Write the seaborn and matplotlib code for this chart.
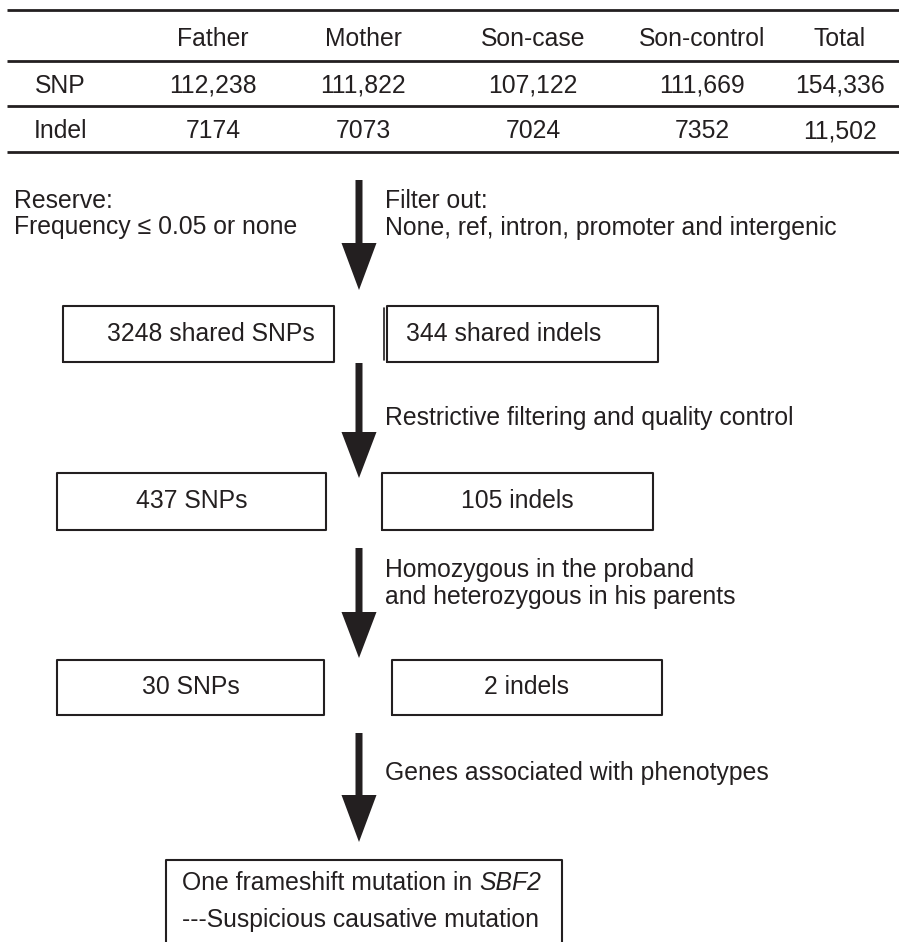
import matplotlib
matplotlib.use("Agg")
import matplotlib.pyplot as plt
import seaborn as sns

#####
##### Data
#####

columns = ['Father', 'Mother', 'Son-case', 'Son-control', 'Total']
row_labels = ['SNP', 'Indel']
snp_counts = [112238, 111822, 107122, 111669, 154336]
indel_counts = [7174, 7073, 7024, 7352, 11502]

reserve_text = ['Reserve:', 'Frequency \u2264 0.05 or none']
step_texts = [
    ['Filter out:', 'None, ref, intron, promoter and intergenic'],
    ['Restrictive filtering and quality control'],
    ['Homozygous in the proband', 'and heterozygous in his parents'],
    ['Genes associated with phenotypes'],
]
snp_left = [3248, 437, 30]
indel_left = [344, 105, 2]
snp_names = ['shared SNPs', 'SNPs', 'SNPs']
indel_names = ['shared indels', 'indels', 'indels']
final_text = ['One frameshift mutation in ', 'SBF2', '---Suspicious causative mutation']

#####
##### Style / layout (pixel units, y down)
#####

sns.set_theme(style='white')
plt.rcParams['font.family'] = ['Liberation Sans', 'DejaVu Sans']
ink = '#231f20'
fs = 17.8

fig = plt.figure(figsize=(8.99, 9.42), dpi=100)
ax = fig.add_axes([0, 0, 1, 1])
ax.set_xlim(0, 899)
ax.set_ylim(942, 0)
ax.axis('off')


def fmt(v):
    return f'{v:,}' if v >= 10000 else str(v)


### table
col_x = [213, 363, 533, 702, 840]
label_x = 60
header_y, snp_y, indel_y = 39, 86, 131
for y in [10, 61, 106, 152]:
    ax.plot([7, 899], [y, y], color=ink, lw=2, solid_capstyle='butt')

for cx, name in zip(col_x, columns):
    ax.text(cx, header_y, name, ha='center', va='center', fontsize=fs, color=ink)
for ry, lab, vals in zip([snp_y, indel_y], row_labels, [snp_counts, indel_counts]):
    ax.text(label_x, ry, lab, ha='center', va='center', fontsize=fs, color=ink)
    for cx, v in zip(col_x, vals):
        ax.text(cx, ry, fmt(v), ha='center', va='center', fontsize=fs, color=ink)


### arrows
def arrow(x, top, base, tip, shaft_w=7, head_w=35):
    ax.fill([x - shaft_w / 2, x + shaft_w / 2, x + shaft_w / 2, x + head_w / 2,
             x, x - head_w / 2, x - shaft_w / 2],
            [top, top, base, base, tip, base, base], color=ink, lw=0)


arrow_x = 359
arrows = [(180, 243, 290), (363, 432, 478), (548, 612, 658), (733, 795, 842)]
for a in arrows:
    arrow(arrow_x, *a)

# side texts
for i, line in enumerate(reserve_text):
    ax.text(14, 201 + 26 * i, line, ha='left', va='center', fontsize=fs, color=ink)
step_y = [201, 418, 570, 773]
for sy, lines in zip(step_y, step_texts):
    for i, line in enumerate(lines):
        ax.text(385, sy + 27 * i, line, ha='left', va='center', fontsize=fs, color=ink)


### boxes
def box(x0, x1, y0, y1, bottom=True):
    xs = [x0, x0, x1, x1]
    ys = [y1, y0, y0, y1]
    if bottom:
        xs.append(x0)
        ys.append(y1)
    ax.plot(xs, ys, color=ink, lw=1.5)


snp_boxes = [(63, 334), (57, 326), (57, 324)]
indel_boxes = [(387, 658), (382, 653), (392, 662)]
box_rows = [(306, 362), (473, 530), (660, 715)]

for i, (y0, y1) in enumerate(box_rows):
    sx0, sx1 = snp_boxes[i]
    ix0, ix1 = indel_boxes[i]
    box(sx0, sx1, y0, y1)
    box(ix0, ix1, y0, y1)
    ym = (y0 + y1) / 2
    if i == 0:
        ax.text(211, ym, f'{snp_left[i]} {snp_names[i]}', ha='center', va='center',
                fontsize=fs, color=ink)
        ax.text(406, ym, f'{indel_left[i]} {indel_names[i]}', ha='left', va='center',
                fontsize=fs, color=ink)
    else:
        ax.text((sx0 + sx1) / 2, ym, f'{snp_left[i]} {snp_names[i]}', ha='center',
                va='center', fontsize=fs, color=ink)
        ax.text((ix0 + ix1) / 2, ym, f'{indel_left[i]} {indel_names[i]}', ha='center',
                va='center', fontsize=fs, color=ink)
# doubled left edge on the first indel box
ax.plot([384, 384], [308, 360], color=ink, lw=1.2)

# final box, open at the bottom edge of the figure
box(166, 562, 860, 944, bottom=False)
t1 = ax.text(182, 883, final_text[0], ha='left', va='center', fontsize=fs, color=ink)
fig.canvas.draw()
bb = t1.get_window_extent()
x_end = ax.transData.inverted().transform((bb.x1, bb.y0))[0]
ax.text(x_end, 883, final_text[1], ha='left', va='center', fontsize=fs, color=ink,
        style='italic')
ax.text(182, 920, final_text[2], ha='left', va='center', fontsize=fs, color=ink)

fig.savefig('out.png', dpi=100, facecolor='white')
